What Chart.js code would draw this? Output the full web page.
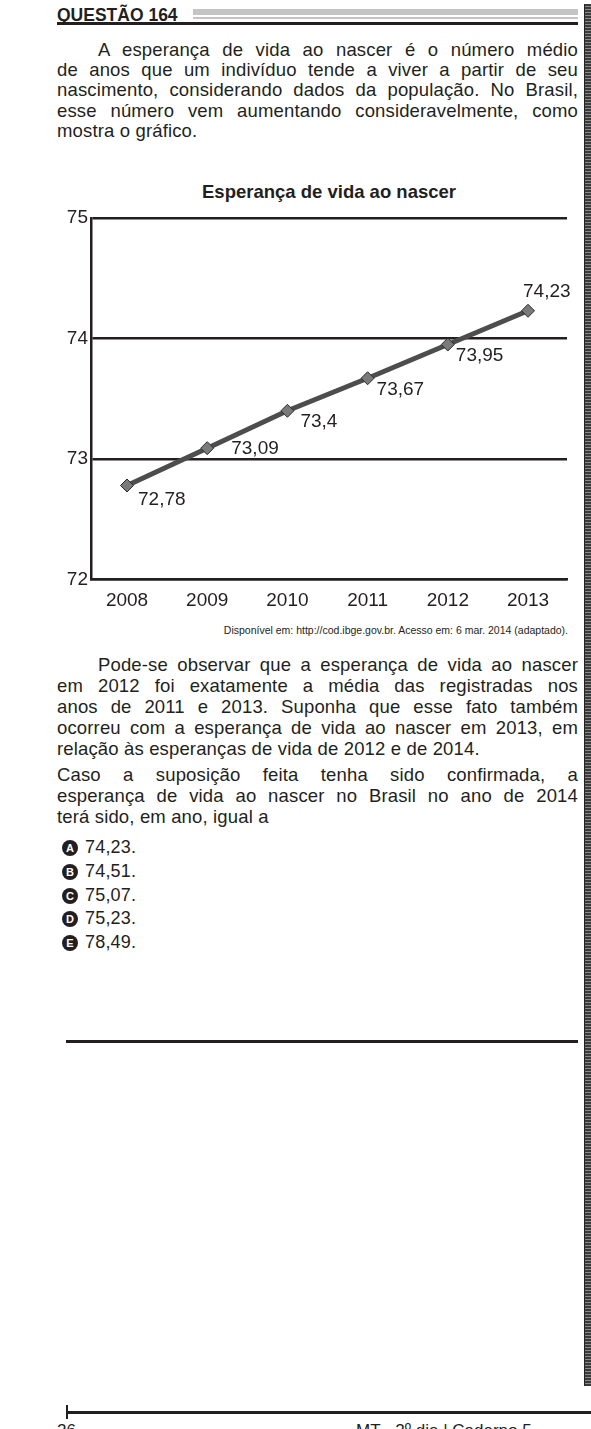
<!DOCTYPE html>
<html>
<head>
<meta charset="utf-8">
<script src="https://cdn.jsdelivr.net/npm/chart.js@4.4.1/dist/chart.umd.min.js"></script>
<style>
  html,body{margin:0;padding:0;background:#fff;}
  body{width:591px;height:1429px;position:relative;overflow:hidden;font-family:"Liberation Sans",Arial,sans-serif;color:#231f20;}
  .abs{position:absolute;}
  .hdr{left:57px;top:5px;font-weight:bold;font-size:17.5px;line-height:20px;}
  .gbar{left:193px;top:9px;width:385px;height:6px;background:#c4c4c4;}
  .gline{left:193px;top:17px;width:385px;height:2px;background:#c4c4c4;}
  .bline{left:57px;top:22px;width:521px;height:2.5px;background:#231f20;}
  .para{left:57px;width:521px;font-size:18.5px;letter-spacing:0.15px;line-height:21px;}
  .para div{white-space:nowrap;}
  .para .j{text-align:justify;text-align-last:justify;white-space:normal;}
  .para .ind{text-indent:41px;}
  .p1{line-height:20.2px;}
  .title{left:91px;width:476px;text-align:center;font-weight:bold;font-size:18.5px;top:182px;line-height:20px;}
  .src{right:23px;top:624px;font-size:10.5px;line-height:13px;}
  .opt{left:62px;font-size:18px;line-height:20px;letter-spacing:0.2px;}
  .opt .c{display:inline-block;width:16px;height:16px;border-radius:50%;background:#231f20;color:#fff;font-weight:bold;font-size:11px;line-height:16px;text-align:center;vertical-align:1px;margin-right:7px;letter-spacing:0;}
  .rule{left:66px;top:1040px;width:512px;height:2.5px;background:#231f20;}
  .strip{left:584px;top:4px;width:6px;height:1382px;background:repeating-linear-gradient(0deg,#3a3a3a 0 2px,#8a8a8a 2px 3px);border-left:1px solid #222;}
  .pline{left:66px;top:1411px;width:525px;height:2.5px;background:#231f20;}
  .ptick{left:66px;top:1405px;width:2px;height:14px;background:#231f20;}
  .foot{top:1421px;font-size:17px;line-height:20px;}
</style>
</head>
<body>
<div class="abs hdr">QUESTÃO 164</div>
<div class="abs gbar"></div>
<div class="abs gline"></div>
<div class="abs bline"></div>

<div class="abs para p1" style="top:40px">
  <div class="j ind">A esperança de vida ao nascer é o número médio</div>
  <div class="j">de anos que um indivíduo tende a viver a partir de seu</div>
  <div class="j">nascimento, considerando dados da população. No Brasil,</div>
  <div class="j">esse número vem aumentando consideravelmente, como</div>
  <div>mostra o gráfico.</div>
</div>

<div class="abs title">Esperança de vida ao nascer</div>

<canvas id="c" class="abs" style="left:0;top:200px;width:591px;height:420px"></canvas>

<div class="abs src">Disponível em: http://cod.ibge.gov.br. Acesso em: 6 mar. 2014 (adaptado).</div>

<div class="abs para" style="top:654px">
  <div class="j ind">Pode-se observar que a esperança de vida ao nascer</div>
  <div class="j">em 2012 foi exatamente a média das registradas nos</div>
  <div class="j">anos de 2011 e 2013. Suponha que esse fato também</div>
  <div class="j">ocorreu com a esperança de vida ao nascer em 2013, em</div>
  <div>relação às esperanças de vida de 2012 e de 2014.</div>
</div>
<div class="abs para" style="top:764px">
  <div class="j">Caso a suposição feita tenha sido confirmada, a</div>
  <div class="j">esperança de vida ao nascer no Brasil no ano de 2014</div>
  <div>terá sido, em ano, igual a</div>
</div>

<div id="opts"></div>

<div class="abs rule"></div>
<div class="abs strip"></div>
<div class="abs pline"></div>
<div class="abs ptick"></div>
<div class="abs foot" style="left:57px">26</div>
<div class="abs foot" style="left:356px">MT - 2º dia | Caderno 5</div>

<script>
// ---- data ----
const years = [2008, 2009, 2010, 2011, 2012, 2013];
const lifeExpectancy = [72.78, 73.09, 73.4, 73.67, 73.95, 74.23];
const valueLabels = ["72,78", "73,09", "73,4", "73,67", "73,95", "74,23"];
const yTicks = [72, 73, 74, 75];
const optionLetters = ["A", "B", "C", "D", "E"];
const optionValues = ["74,23.", "74,51.", "75,07.", "75,23.", "78,49."];

// ---- options list ----
const optTops = [837, 861, 885, 908, 932];
const optBox = document.getElementById('opts');
optionLetters.forEach((l, i) => {
  const d = document.createElement('div');
  d.className = 'abs opt';
  d.style.top = optTops[i] + 'px';
  d.innerHTML = '<span class="c">' + l + '</span>' + optionValues[i];
  optBox.appendChild(d);
});

// ---- chart ----
const labelOffsets = [[11, 14], [24, 1], [13, 11], [9, 12], [8, 11], [-5, -19]];
const FONT = '"Liberation Sans", Arial, sans-serif';

const valueLabelPlugin = {
  id: 'valueLabels',
  afterDatasetsDraw(chart) {
    const ctx = chart.ctx;
    const meta = chart.getDatasetMeta(0);
    ctx.save();
    ctx.font = '19px ' + FONT;
    ctx.fillStyle = '#231f20';
    ctx.textAlign = 'left';
    ctx.textBaseline = 'middle';
    meta.data.forEach((pt, i) => {
      const o = labelOffsets[i];
      ctx.fillText(valueLabels[i], pt.x + o[0], pt.y + o[1]);
    });
    ctx.restore();
  }
};

new Chart(document.getElementById('c'), {
  type: 'line',
  data: {
    datasets: [{
      data: years.map((y, i) => ({ x: y, y: lifeExpectancy[i] })),
      borderColor: '#4d4d4d',
      borderWidth: 5,
      pointStyle: 'rectRot',
      pointRadius: 6.5,
      pointBackgroundColor: '#7a7a7a',
      pointBorderColor: '#2a2a2a',
      pointBorderWidth: 1,
      tension: 0,
      fill: false
    }]
  },
  options: {
    responsive: false,
    animation: false,
    devicePixelRatio: 1,
    layout: { padding: { left: 49, right: 24, top: 18, bottom: 4.5 } },
    plugins: { legend: { display: false }, tooltip: { enabled: false }, title: { display: false } },
    scales: {
      x: {
        type: 'linear',
        min: 2007.551,
        max: 2013.486,
        afterFit(s) { s.height = 36; },
        afterBuildTicks(s) { s.ticks = years.map(v => ({ value: v })); },
        grid: { display: false, drawTicks: false },
        border: { display: true, color: '#231f20', width: 2.5 },
        ticks: { font: { size: 19, family: FONT }, color: '#231f20', padding: 10, maxRotation: 0, callback: v => String(v) }
      },
      y: {
        min: 72,
        max: 75,
        afterFit(s) { s.width = 42; },
        afterBuildTicks(s) { s.ticks = yTicks.map(v => ({ value: v })); },
        grid: { color: '#231f20', lineWidth: 2.5, drawTicks: false },
        border: { display: true, color: '#231f20', width: 2.5 },
        ticks: { font: { size: 19, family: FONT }, color: '#231f20', padding: 3, callback: v => String(v) }
      }
    }
  },
  plugins: [valueLabelPlugin]
});
</script>
</body>
</html>
